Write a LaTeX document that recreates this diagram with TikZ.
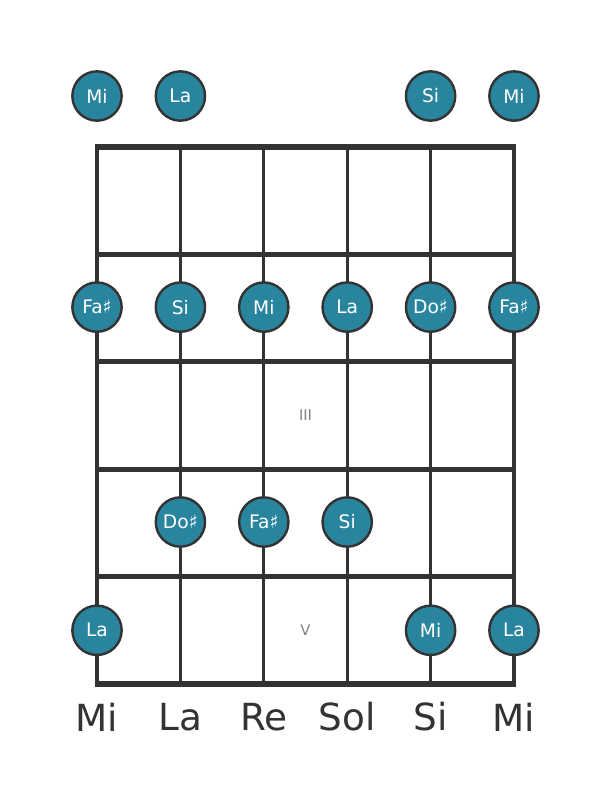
\documentclass[tikz,border=0pt]{standalone}
\usepackage{fontspec}
\setmainfont{DejaVu Sans}
\usetikzlibrary{positioning}
\definecolor{dotColor}{RGB}{41,133,158}
\definecolor{lineColor}{RGB}{51,51,51}
\definecolor{fretNumColor}{RGB}{128,128,128}

\begin{document}
\begin{tikzpicture}[x=0.75pt,y=-0.75pt]

          \tikzstyle{stringLine} = [lineColor, line width=2.4pt];
          \tikzstyle{fretLine} = [lineColor, line width=4pt];
          \tikzstyle{noteDot} = [circle, draw=lineColor, line width=1.8pt, fill=dotColor, minimum size=37pt, inner sep=0pt, text=white, font=\fontsize{14}{14}\selectfont];
          \tikzstyle{fretNum} = [fretNumColor, font=\fontsize{11}{11}\selectfont];
          \tikzstyle{tuning} = [lineColor, font=\fontsize{28}{28}\selectfont];

          \useasboundingbox (0,0) rectangle (611,801);

          % strings
          \foreach \s/\x in {1/97,2/180.4,3/263.8,4/347.2,5/430.6,6/514} {
            \coordinate (top\s) at (\x,147);
            \coordinate (bot\s) at (\x,684);
            \draw[stringLine] (top\s) -- (bot\s);
          }

          % frets
          \foreach \f/\y in {0/147,1/254.4,2/361.8,3/469.2,4/576.6,5/684} {
            \coordinate (fl\f) at (95.4,\y);
            \coordinate (fr\f) at (515.6,\y);
            \draw[fretLine] (fl\f) -- (fr\f);
          }

          \node[fretNum] (three) at (305.5,415.5) {III};
          \node[fretNum] (five) at (305.5,630.3) {V};

          % open strings
          \node[noteDot] (o1) at (97,96) {Mi};
          \node[noteDot] (o2) at (180.4,96) {La};
          \node[noteDot] (o5) at (430.6,96) {Si};
          \node[noteDot] (o6) at (514,96) {Mi};

          % second fret
          \node[noteDot] (a1) at (97,307.1) {Fa♯};
          \node[noteDot] (a2) at (180.4,307.1) {Si};
          \node[noteDot] (a3) at (263.8,307.1) {Mi};
          \node[noteDot] (a4) at (347.2,307.1) {La};
          \node[noteDot] (a5) at (430.6,307.1) {Do♯};
          \node[noteDot] (a6) at (514,307.1) {Fa♯};

          % fourth fret
          \node[noteDot] (b2) at (180.4,522) {Do♯};
          \node[noteDot] (b3) at (263.8,522) {Fa♯};
          \node[noteDot] (b4) at (347.2,522) {Si};

          % fifth fret
          \node[noteDot] (c1) at (97,630.3) {La};
          \node[noteDot] (c5) at (430.6,630.3) {Mi};
          \node[noteDot] (c6) at (514,630.3) {La};

          % tuning
          \node[tuning] (t1) at (97,717) {Mi};
          \node[tuning] (t2) at (180.4,717) {La};
          \node[tuning] (t3) at (263.8,717) {Re};
          \node[tuning] (t4) at (347.2,717) {Sol};
          \node[tuning] (t5) at (430.6,717) {Si};
          \node[tuning] (t6) at (514,717) {Mi};
        \end{tikzpicture}
\end{document}
